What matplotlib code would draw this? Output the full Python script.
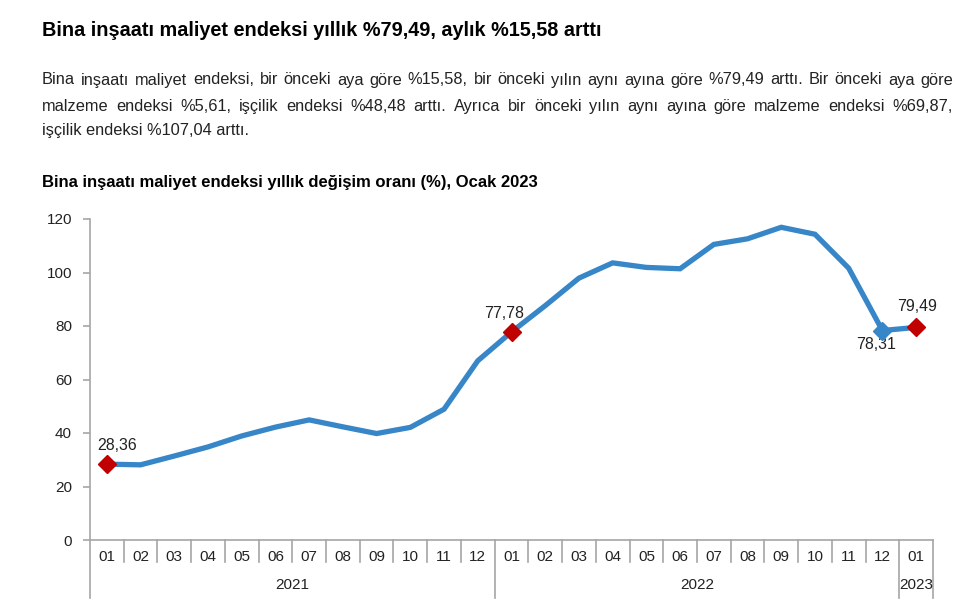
import matplotlib
matplotlib.use("Agg")
import matplotlib.pyplot as plt
import matplotlib.transforms as mtransforms

plt.rcParams['font.family'] = ['Liberation Sans', 'DejaVu Sans']

months = ["01", "02", "03", "04", "05", "06", "07", "08", "09", "10", "11", "12",
          "01", "02", "03", "04", "05", "06", "07", "08", "09", "10", "11", "12",
          "01"]
years = ["2021", "2022", "2023"]
year_counts = [12, 12, 1]
values = [28.36, 28.1, 31.4, 34.8, 38.9, 42.2, 44.9, 42.3, 39.8, 42.1, 48.9, 67.0,
          77.78, 87.6, 97.9, 103.6, 101.9, 101.4, 110.5, 112.6, 116.9, 114.3, 101.6, 78.31,
          79.49]
labels = {0: "28,36", 12: "77,78", 23: "78,31", 24: "79,49"}
red_markers = [0, 12, 24]
blue_markers = [23]

title = "Bina inşaatı maliyet endeksi yıllık %79,49, aylık %15,58 arttı"
para_lines = [
    "Bina inşaatı maliyet endeksi, bir önceki aya göre %15,58, bir önceki yılın aynı ayına göre %79,49 arttı. Bir önceki aya göre",
    "malzeme endeksi %5,61, işçilik endeksi %48,48 arttı. Ayrıca bir önceki yılın aynı ayına göre malzeme endeksi %69,87,",
    "işçilik endeksi %107,04 arttı.",
]
subtitle = "Bina inşaatı maliyet endeksi yıllık değişim oranı (%), Ocak 2023"

W, H = 967, 612
fig = plt.figure(figsize=(W / 100, H / 100), dpi=100)
fig.patch.set_facecolor("white")

txt_color = "#222222"
axis_color = "#a6a6a6"

# Header texts
fig.text(42 / W, 1 - 30 / H, title, fontsize=14.3, fontweight="bold", color="black",
         ha="left", va="center")

# Justified paragraph
fig.canvas.draw()
renderer = fig.canvas.get_renderer()
para_fs = 11.8
left_px, right_px = 42, 953
line_y = [80, 106, 131]
for i, line in enumerate(para_lines):
    yy = 1 - line_y[i] / H
    if i < len(para_lines) - 1:
        words = line.split(" ")
        widths = []
        for w in words:
            t = fig.text(0, 0, w, fontsize=para_fs)
            bb = t.get_window_extent(renderer=renderer)
            widths.append(bb.width)
            t.remove()
        gap = (right_px - left_px - sum(widths)) / (len(words) - 1)
        x = left_px
        for w, wd in zip(words, widths):
            fig.text(x / W, yy, w, fontsize=para_fs, color=txt_color, ha="left", va="center")
            x += wd + gap
    else:
        fig.text(left_px / W, yy, line, fontsize=para_fs, color=txt_color, ha="left", va="center")

fig.text(42 / W, 1 - 182 / H, subtitle, fontsize=12.0, fontweight="bold", color="black",
         ha="left", va="center")

# Axes
ax_left, ax_right, ax_bottom, ax_top = 90, 933, 540, 219
ax = fig.add_axes([ax_left / W, 1 - ax_bottom / H, (ax_right - ax_left) / W, (ax_bottom - ax_top) / H])
n = len(values)
xs = list(range(n))
ax.set_xlim(-0.5, n - 0.5)
ax.set_ylim(0, 120)
ax.plot(xs, values, color="#3786c8", lw=3.8, solid_joinstyle="miter", zorder=3)
ax.plot([xs[i] for i in red_markers], [values[i] for i in red_markers], linestyle="none",
        marker="D", markersize=9, color="#c00000", zorder=4)
ax.plot([xs[i] for i in blue_markers], [values[i] for i in blue_markers], linestyle="none",
        marker="D", markersize=9, color="#3786c8", zorder=4)

# label offsets in pixels (dx, dy, va)
label_offsets = {0: (10, 11, "bottom"), 12: (-7, 11, "bottom"),
                 23: (-6, -6, "top"), 24: (1, 13, "bottom")}
for i, lab in labels.items():
    dx, dy, va = label_offsets[i]
    ax.annotate(lab, (xs[i], values[i]), xytext=(dx * 0.72, dy * 0.72), textcoords="offset points",
                ha="center", va=va, fontsize=11.4, color=txt_color)

for s in ["top", "right"]:
    ax.spines[s].set_visible(False)
ax.spines["left"].set_color(axis_color)
ax.spines["bottom"].set_color(axis_color)
ax.spines["left"].set_linewidth(1.2)
ax.spines["bottom"].set_linewidth(1.2)
ax.set_yticks([0, 20, 40, 60, 80, 100, 120])
ax.tick_params(axis="y", length=5, width=1.2, color=axis_color, labelsize=11,
               labelcolor=txt_color, pad=8)
ax.set_xticks([])

# Category axis: month labels, separators and year labels
trans = mtransforms.blended_transform_factory(ax.transData, ax.transAxes)
hgt = ax_bottom - ax_top
short_y = -(562 - ax_bottom) / hgt
long_y = -(598 - ax_bottom) / hgt
month_y = -(557 - ax_bottom) / hgt
year_y = -(585 - ax_bottom) / hgt
for i, m in enumerate(months):
    ax.text(xs[i], month_y, m, transform=trans, ha="center", va="center",
            fontsize=11, color=txt_color)
boundaries = [0]
for c in year_counts:
    boundaries.append(boundaries[-1] + c)
for k in range(n + 1):
    bottom = long_y if k in boundaries else short_y
    ax.plot([k - 0.5, k - 0.5], [0, bottom], transform=trans, color=axis_color,
            lw=1.2, clip_on=False)
for j, yr in enumerate(years):
    center = (boundaries[j] + boundaries[j + 1] - 1) / 2
    ax.text(center, year_y, yr, transform=trans, ha="center", va="center",
            fontsize=11, color=txt_color)

fig.savefig("out.png", dpi=100, facecolor="white")
